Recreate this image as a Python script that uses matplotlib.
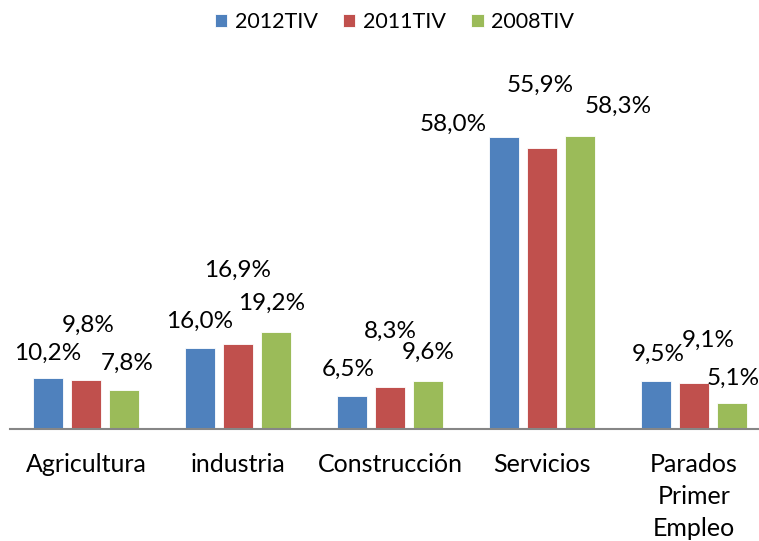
import numpy as np
import matplotlib.pyplot as plt

plt.rcParams['font.family'] = ['Lato', 'DejaVu Sans']

categories = ['Agricultura', 'industria', 'Construcción', 'Servicios', 'Parados\nPrimer\nEmpleo']
series_names = ['2012TIV', '2011TIV', '2008TIV']
v2012 = [10.2, 16.0, 6.5, 58.0, 9.5]
v2011 = [9.8, 16.9, 8.3, 55.9, 9.1]
v2008 = [7.8, 19.2, 9.6, 58.3, 5.1]
colors = ['#4F81BD', '#C0504D', '#9BBB59']

# label offsets (pixels) from the top-centre of each bar, as placed in the original
label_offsets = [
    [(0, 24), (0, 27), (-4, 27), (-51, 13), (2, 27)],
    [(2, 54), (0, 74), (0, 56), (-2, 62), (14, 43)],
    [(3, 26), (-4, 29), (0, 28), (38, 29), (1, 25)],
]

fs = 17.5

fig = plt.figure(figsize=(7.59, 5.41), dpi=100)
ax = fig.add_axes([10 / 759, 112 / 541, 760 / 759, 302 / 541])

x = np.arange(len(categories))
width = 30 / 152
step = 38 / 152
series = [v2012, v2011, v2008]
for i, vals in enumerate(series):
    pos = x + (i - 1) * step
    bars = ax.bar(pos, vals, width, color=colors[i], edgecolor='white',
                  linewidth=0.6, label=series_names[i], zorder=2)
    for j, b in enumerate(bars):
        dx, dy = label_offsets[i][j]
        ax.annotate(('%.1f%%' % vals[j]).replace('.', ','),
                    (b.get_x() + b.get_width() / 2, b.get_height()),
                    xytext=(dx, dy), textcoords='offset pixels',
                    ha='center', va='center', fontsize=fs,
                    annotation_clip=False)

ax.set_xlim(-0.5, len(categories) - 0.5)
ax.set_ylim(0, 60)
ax.set_yticks([])
ax.set_xticks(x)
ax.set_xticklabels(categories, fontsize=18, linespacing=1.48)
ax.tick_params(axis='x', length=0, pad=17)
for s in ['top', 'right', 'left']:
    ax.spines[s].set_visible(False)
ax.spines['bottom'].set_color('#868686')
ax.spines['bottom'].set_linewidth(1.5)

fig.legend(loc='center', bbox_to_anchor=(394.5 / 759, 1 - 22 / 541), ncol=3, frameon=False,
           fontsize=15.5, handlelength=0.56, handleheight=0.56, handletextpad=0.34,
           columnspacing=1.2, borderpad=0)

fig.savefig('out.png', dpi=100)
